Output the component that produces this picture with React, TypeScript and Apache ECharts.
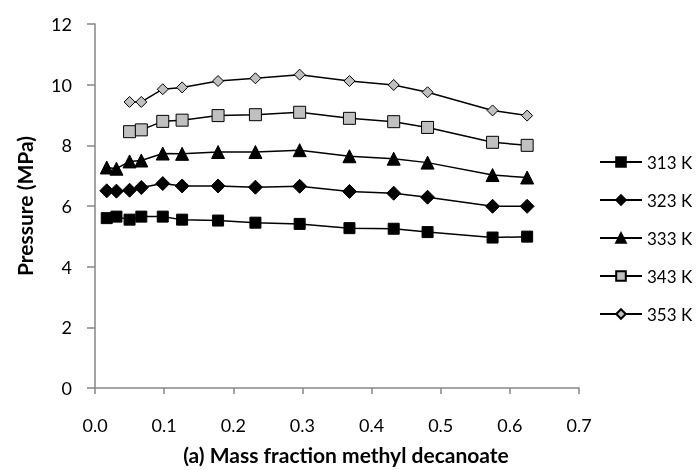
import React, { useEffect, useRef } from "react";
import * as echarts from "echarts";

const xLong = [0.017, 0.031, 0.05, 0.067, 0.098, 0.126, 0.178, 0.232, 0.296, 0.368, 0.432, 0.481, 0.575, 0.625];
const xShort = [0.05, 0.067, 0.098, 0.126, 0.178, 0.232, 0.296, 0.368, 0.432, 0.481, 0.575, 0.625];

const p313 = [5.6, 5.65, 5.55, 5.65, 5.65, 5.55, 5.52, 5.45, 5.41, 5.27, 5.25, 5.14, 4.96, 4.99];
const p323 = [6.5, 6.49, 6.52, 6.61, 6.74, 6.66, 6.66, 6.62, 6.65, 6.48, 6.42, 6.29, 5.99, 5.99];
const p333 = [7.27, 7.23, 7.47, 7.5, 7.73, 7.72, 7.78, 7.78, 7.84, 7.64, 7.56, 7.43, 7.02, 6.94];
const p343 = [8.45, 8.51, 8.79, 8.83, 8.98, 9.01, 9.09, 8.89, 8.78, 8.59, 8.1, 8.0];
const p353 = [9.43, 9.43, 9.85, 9.91, 10.12, 10.21, 10.33, 10.12, 9.99, 9.75, 9.15, 8.98];

const seriesNames = ["313 K", "323 K", "333 K", "343 K", "353 K"];

const FONT = "Lato";

function zip(xs: number[], ys: number[]) {
  return xs.map((x, i) => [x, ys[i]]);
}

export default function App() {
  const ref = useRef<HTMLDivElement>(null);
  useEffect(() => {
    document.body.style.margin = "0";
    document.body.style.overflow = "hidden";
    if (!ref.current) return;
    const chart = echarts.init(ref.current, undefined, { renderer: "svg" });
    const mk = (name: string, data: number[][], symbol: string, size: number, fill: string) => ({
      name,
      type: "line",
      data,
      symbol,
      symbolSize: size,
      showAllSymbol: true,
      lineStyle: { color: "#000", width: 1.5 },
      itemStyle: { color: fill, borderColor: "#000", borderWidth: 1 },
      emphasis: { disabled: true },
    });
    chart.setOption({
      animation: false,
      textStyle: { fontFamily: FONT },
      grid: { left: 95, right: 118, top: 24, bottom: 78, containLabel: false },
      legend: {
        orient: "vertical",
        left: 599,
        top: 152,
        padding: 0,
        itemWidth: 42,
        itemHeight: 12,
        itemGap: 18,
        textStyle: { fontFamily: FONT, fontSize: 17, color: "#000", lineHeight: 20 },
        data: seriesNames,
      },
      xAxis: {
        type: "value",
        min: 0,
        max: 0.7,
        interval: 0.1,
        name: "(a) Mass fraction methyl decanoate",
        nameLocation: "middle",
        nameGap: 56,
        nameTextStyle: { fontFamily: FONT, fontSize: 21, fontWeight: "bold", color: "#000", padding: [0, 0, 0, 18] },
        axisLine: { lineStyle: { color: "#868686", width: 1.5 } },
        axisTick: { show: true, inside: false, length: 6, lineStyle: { color: "#868686", width: 1.5 } },
        axisLabel: { margin: 28, fontSize: 18, color: "#000", fontFamily: FONT, formatter: (v: number) => v.toFixed(1) },
        splitLine: { show: false },
      },
      yAxis: {
        type: "value",
        min: 0,
        max: 12,
        interval: 2,
        name: "Pressure (MPa)",
        nameLocation: "middle",
        nameGap: 60,
        nameTextStyle: { fontFamily: FONT, fontSize: 21, fontWeight: "bold", color: "#000" },
        axisLine: { show: true, lineStyle: { color: "#868686", width: 1.5 } },
        axisTick: { show: true, inside: false, length: 8, lineStyle: { color: "#868686", width: 1.5 } },
        axisLabel: { margin: 23, fontSize: 18, color: "#000", fontFamily: FONT },
        splitLine: { show: false },
      },
      series: [
        mk(seriesNames[0], zip(xLong, p313), "rect", 11, "#000"),
        mk(seriesNames[1], zip(xLong, p323), "diamond", 14, "#000"),
        mk(seriesNames[2], zip(xLong, p333), "triangle", 13, "#000"),
        mk(seriesNames[3], zip(xShort, p343), "rect", 12, "#c0c0c0"),
        mk(seriesNames[4], zip(xShort, p353), "diamond", 11, "#c0c0c0"),
      ],
    });
    return () => chart.dispose();
  }, []);
  return <div ref={ref} style={{ position: "fixed", left: 0, top: 0, width: 697, height: 470 }} />;
}
